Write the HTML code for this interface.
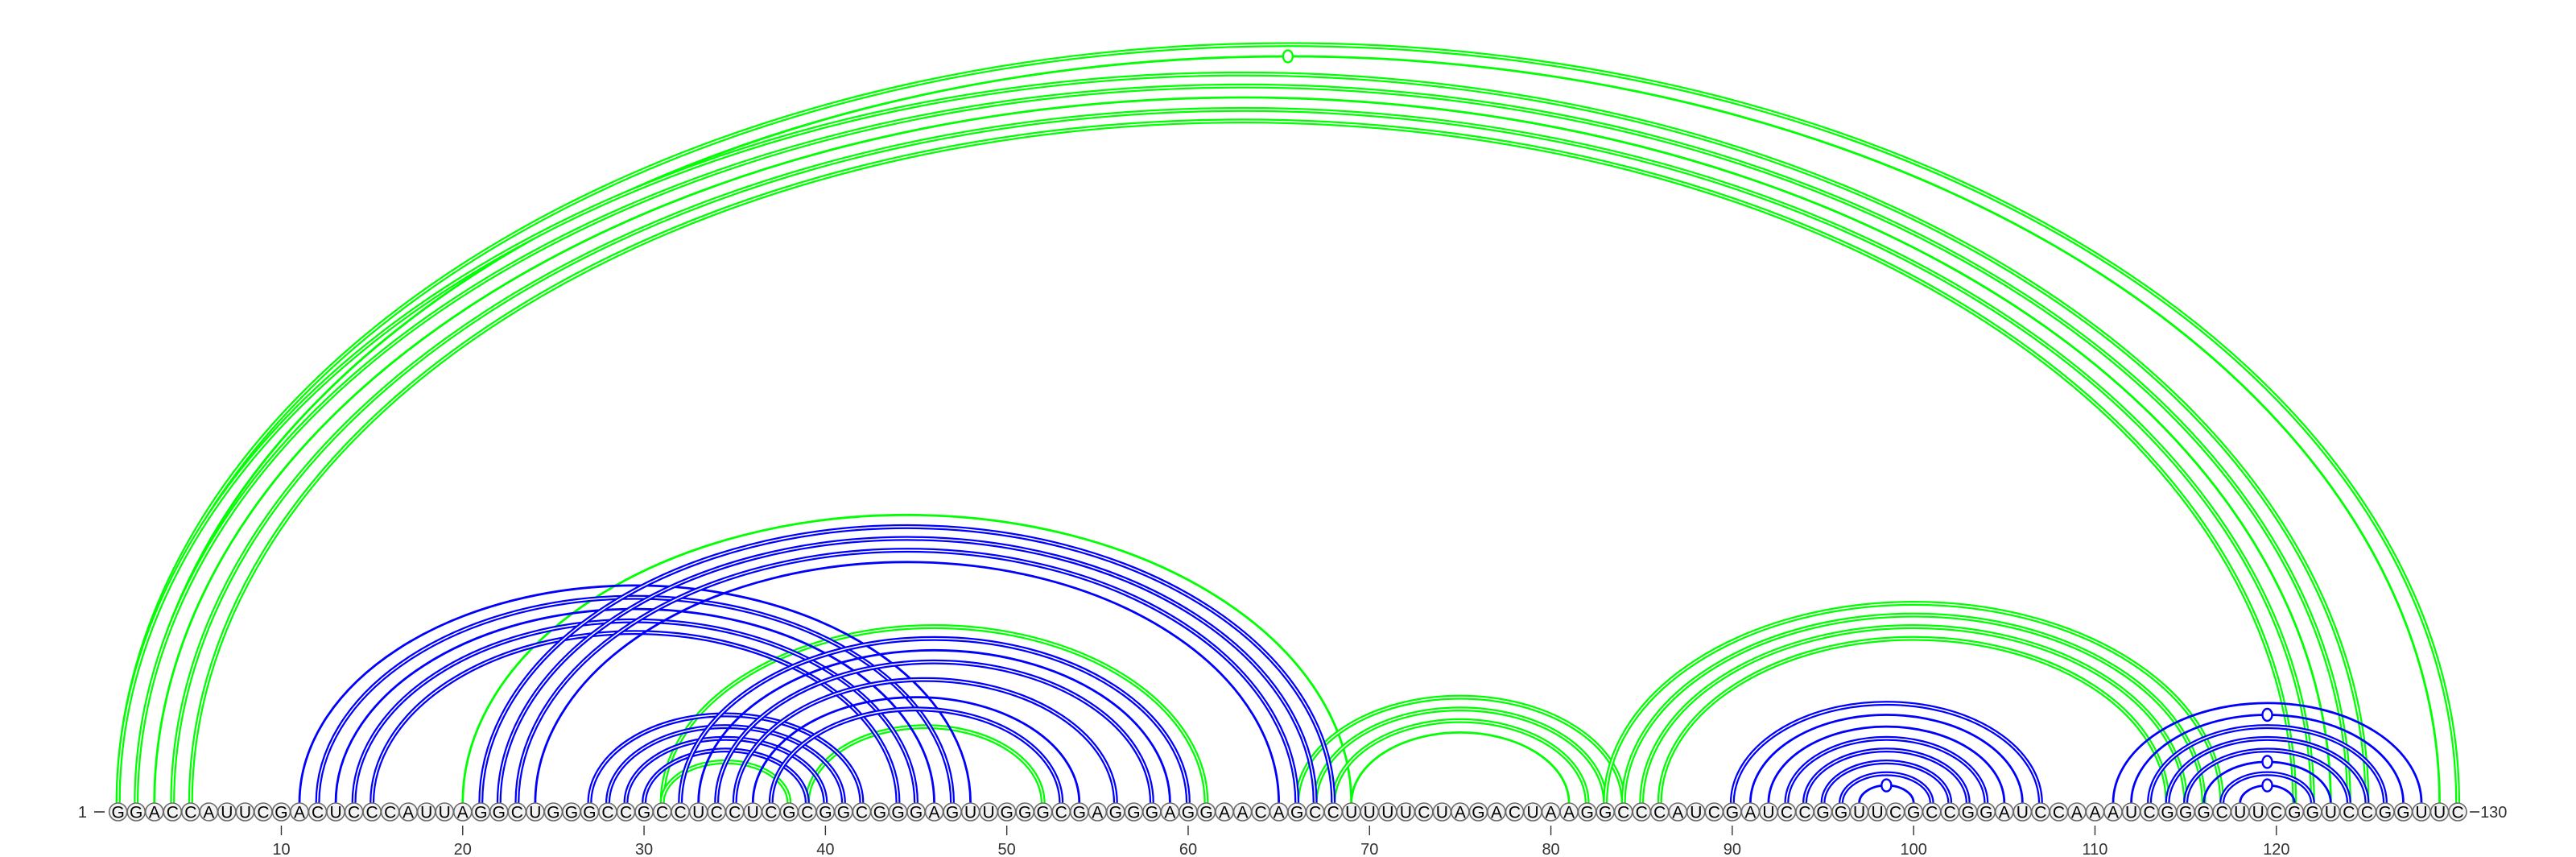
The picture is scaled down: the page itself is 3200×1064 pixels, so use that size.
<!DOCTYPE html>
<html><head><meta charset="utf-8"><title>RNA arc diagram</title>
<style>
html,body{margin:0;padding:0;background:#fff;}
svg{display:block;}
text{font-family:"Liberation Sans","DejaVu Sans",sans-serif;}
</style></head>
<body>
<svg id="chart" width="3200" height="1064" viewBox="0 0 3200 1064" xmlns="http://www.w3.org/2000/svg">
<g id="arcs"></g>
<g id="bases"></g>
<g id="axis"></g>
</svg>
<script>
const sequence = "GGACCAUUCGACUCCCAUUAGGCUGGGCCGCCUCCUCGCGGCGGGAGUUGGGCGAGGGAGGAACAGCCUUUUCUAGACUAAGGCCCAUCGAUCCGGUUCGCCGGAUCCAAAUCGGGCUUCGGUCCGGUUC";
const tickPositions = [10,20,30,40,50,60,70,80,90,100,110,120];
const arcStart = [1,2,1,2,3,4,5, 20,31,31,39,66,67,68,69,83,84,85,86,
  11,12,13,14,15, 21,22,23,24, 27,28,29,30, 32,33,34,35,36,37,
  90,91,92,93,94,95,96,97, 111,112,113,114,115,116,117,118];
const arcEnd = [130,129,125,124,123,122,121, 69,61,38,52,84,83,82,81,117,116,115,114,
  48,47,46,45,44, 68,67,66,65, 42,41,40,39, 60,59,58,56,54,53,
  107,106,105,104,103,102,101,100, 128,127,126,125,124,123,122,121];
const arcSeries = ["g","g","g","g","g","g","g", "g","g","g","g","g","g","g","g","g","g","g","g",
  "b","b","b","b","b", "b","b","b","b", "b","b","b","b", "b","b","b","b","b","b",
  "b","b","b","b","b","b","b","b", "b","b","b","b","b","b","b","b"];
const arcDouble = [1,0,1,1,0,1,1, 0,1,1,1,1,1,1,0,1,1,1,1,
  0,1,0,1,1, 1,1,1,0, 1,1,1,1, 1,0,1,1,0,1,
  1,0,0,1,1,1,1,0, 0,0,1,1,1,0,1,0];
const arcMarker = [0,1,0,0,0,0,0, 0,0,0,0,0,0,0,0,0,0,0,0,
  0,0,0,0,0, 0,0,0,0, 0,0,0,0, 0,0,0,0,0,0,
  0,0,0,0,0,0,0,1, 0,1,0,0,0,1,0,1];

const NS = "http://www.w3.org/2000/svg";
const X0 = 146.7, STEP = 22.53, BASE_Y = 1008, ARC_Y = 997, RATIO = 0.648;
function xPos(n){ return X0 + (n-1)*STEP; }
const colors = {g:"#00ff00", b:"#0000ff"};
function mk(tag, attrs, parent){
  const e = document.createElementNS(NS, tag);
  for (const k in attrs) e.setAttribute(k, attrs[k]);
  parent.appendChild(e); return e;
}
const arcsG = document.getElementById("arcs");
for (let k = 0; k < arcStart.length; k++){
  const x1 = xPos(arcStart[k]), x2 = xPos(arcEnd[k]);
  const rx = (x2-x1)/2, ry = rx*RATIO;
  const d = `M ${x1} ${ARC_Y} A ${rx} ${ry} 0 0 1 ${x2} ${ARC_Y}`;
  const col = colors[arcSeries[k]];
  const g = mk("g", {}, arcsG);
  
  
  if (arcDouble[k]){
    mk("path", {d:d, fill:"none", stroke:col, "stroke-width":6}, g);
    mk("path", {d:d, fill:"none", stroke:"#fff", "stroke-width":1.5}, g);
  } else {
    mk("path", {d:d, fill:"none", stroke:col, "stroke-width":2.8}, g);
  }
  if (arcMarker[k]){
    const m = mk("ellipse", {cx:(x1+x2)/2, cy:ARC_Y-ry, rx:6, ry:7.5, fill:"#fff", stroke:col, "stroke-width":2.4}, g);
    
    
  }
}
const basesG = document.getElementById("bases");
for (let i = 0; i < sequence.length; i++){
  const x = xPos(i+1);
  const g = mk("g", {}, basesG);
  
  
  mk("circle", {cx:x, cy:BASE_Y, r:11, fill:"#f2f2f2", stroke:"#6a6a6a", "stroke-width":1.6}, g);
  const t = mk("text", {x:x, y:BASE_Y+7.5, "text-anchor":"middle", "font-size":21, fill:"#000"}, g);
  t.textContent = sequence[i];
}
const axisG = document.getElementById("axis");
const startLbl = mk("text", {x:108, y:BASE_Y+7, "text-anchor":"end", "font-size":20, fill:"#333"}, axisG);


startLbl.textContent = "1";
mk("line", {x1:117, y1:BASE_Y, x2:130, y2:BASE_Y, stroke:"#333", "stroke-width":1.6}, axisG);
const endX = xPos(sequence.length);
mk("line", {x1:endX+15, y1:BASE_Y, x2:endX+27, y2:BASE_Y, stroke:"#333", "stroke-width":1.6}, axisG);
const endLbl = mk("text", {x:endX+28, y:BASE_Y+7, "text-anchor":"start", "font-size":20, fill:"#333"}, axisG);


endLbl.textContent = String(sequence.length);
for (const p of tickPositions){
  const x = xPos(p);
  const tk = mk("line", {x1:x, y1:1025, x2:x, y2:1037, stroke:"#333", "stroke-width":1.4}, axisG);
  
  
  const tl = mk("text", {x:x, y:1061, "text-anchor":"middle", "font-size":20, fill:"#333"}, axisG);
  
  
  tl.textContent = String(p);
}
</script>
</body></html>
